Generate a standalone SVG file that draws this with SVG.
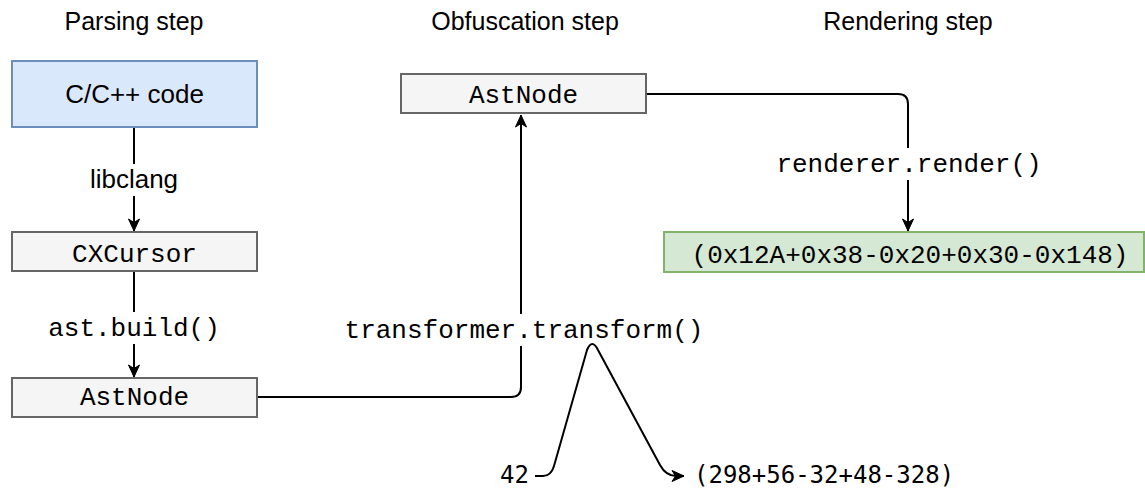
<svg xmlns="http://www.w3.org/2000/svg" width="1145" height="491" viewBox="0 0 1145 491">
<defs>
<style>
.title{font-family:"Liberation Sans",Arial,sans-serif;font-size:25px;fill:#000;text-anchor:middle}
.sans{font-family:"Liberation Sans",Arial,sans-serif;font-size:26px;fill:#000;text-anchor:middle}
.mono{font-family:"Liberation Mono","Courier New",monospace;font-size:26px;fill:#000;text-anchor:middle}
.mono2{font-family:"DejaVu Sans Mono",monospace;font-size:24px;fill:#000}
.gray{fill:#f5f5f5;stroke:#666666;stroke-width:2}
.blue{fill:#dae8fc;stroke:#6c8ebf;stroke-width:2}
.green{fill:#d5e8d4;stroke:#82b366;stroke-width:2}
.edge{fill:none;stroke:#000;stroke-width:2}
.lbl{fill:#fff}
</style>
<marker id="arr" markerWidth="14" markerHeight="14" viewBox="0 0 14 14" refX="13" refY="7" orient="auto" markerUnits="userSpaceOnUse">
<path d="M1,1.5 L13,7 L1,12.5 L4.5,7 Z" fill="#000" stroke="#000" stroke-width="1"/>
</marker>
</defs>
<rect width="1145" height="491" fill="#fff"/>
<g id="titles">
<text class="title" x="134" y="30">Parsing step</text>
<text class="title" x="525" y="30">Obfuscation step</text>
<text class="title" x="908" y="30">Rendering step</text>
</g>
<g id="connectors">
<path class="edge" d="M134,127 L134,231" marker-end="url(#arr)"/>
<rect class="lbl" x="85" y="164" width="98" height="32"/>
<text class="sans" x="134" y="188">libclang</text>
<path class="edge" d="M134,271 L134,377" marker-end="url(#arr)"/>
<rect class="lbl" x="48" y="312" width="172" height="32"/>
<text class="mono" x="134" y="336">ast.build()</text>
<path class="edge" d="M257,397 L511,397 Q521,397 521,387 L521,115" marker-end="url(#arr)"/>
<rect class="lbl" x="342" y="314" width="364" height="32"/>
<text class="mono" x="524" y="338">transformer.transform()</text>
<path class="edge" d="M646,94 L898,94 Q908,94 908,104 L908,231" marker-end="url(#arr)"/>
<rect class="lbl" x="774" y="148" width="270" height="32"/>
<text class="mono" x="909" y="172">renderer.render()</text>
<path class="edge" d="M535,476 L543,476 Q551,476 554,466 L587,350 Q592,338 598,350 L660,465 Q666,476 676,476 L684,476" marker-end="url(#arr)"/>
</g>
<g id="n-code">
<rect class="blue" x="12" y="61" width="245" height="66"/>
<text class="sans" x="134.5" y="103">C/C++ code</text>
</g>
<g id="n-cxcursor">
<rect class="gray" x="12" y="232" width="245" height="39"/>
<text class="mono" x="134.5" y="262">CXCursor</text>
</g>
<g id="n-astnode1">
<rect class="gray" x="12" y="378" width="245" height="39"/>
<text class="mono" x="134.5" y="405">AstNode</text>
</g>
<g id="n-astnode2">
<rect class="gray" x="401" y="74" width="245" height="39"/>
<text class="mono" x="523.5" y="103">AstNode</text>
</g>
<g id="n-output">
<rect class="green" x="664" y="232" width="480" height="40"/>
<text class="mono" x="910" y="263">(0x12A+0x38-0x20+0x30-0x148)</text>
</g>
<g id="n-42">
<text class="mono2" x="500" y="483">42</text>
</g>
<g id="n-expr">
<text class="mono2" x="694" y="483">(298+56-32+48-328)</text>
</g>
</svg>
